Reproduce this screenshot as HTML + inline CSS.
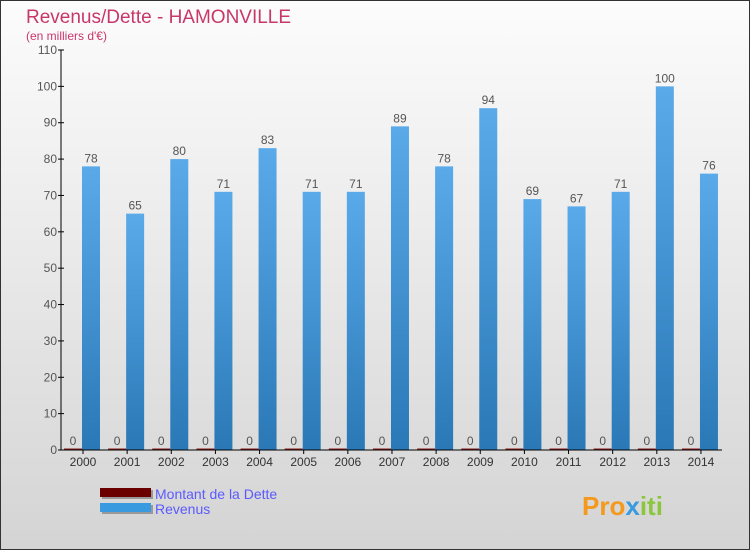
<!DOCTYPE html>
<html><head><meta charset="utf-8"><style>
body{margin:0}
svg{display:block;font-family:"Liberation Sans",sans-serif}
</style></head><body>
<svg width="750" height="550">
<defs>
<linearGradient id="bg" x1="0" y1="0" x2="0" y2="1"><stop offset="0" stop-color="#fcfcfc"/><stop offset="1" stop-color="#d4d4d4"/></linearGradient>
<linearGradient id="bar" x1="0" y1="0" x2="0" y2="1"><stop offset="0" stop-color="#5aaaea"/><stop offset="1" stop-color="#2a78b6"/></linearGradient>
</defs>
<rect x="0.5" y="0.5" width="749" height="549" fill="url(#bg)" stroke="#333"/>
<text x="26" y="23" font-size="19" fill="#c8376a">Revenus/Dette - HAMONVILLE</text>
<text x="26" y="40" font-size="12" fill="#c8376a">(en milliers d'€)</text>
<g id="plot"></g>
<g>
<rect x="102" y="490" width="51" height="9" fill="#999"/><rect x="100" y="488" width="51" height="9" fill="#6b0000"/>
<text x="155" y="499" font-size="14" fill="#5a5aff">Montant de la Dette</text>
<rect x="102" y="505" width="51" height="9" fill="#999"/><rect x="100" y="503" width="51" height="9" fill="#3a9ae0"/>
<text x="155" y="514" font-size="14" fill="#5a5aff">Revenus</text>
</g>
<text x="582" y="515" font-size="26" font-weight="bold" fill="#f39a1e">Pro<tspan fill="#3a9ae0">x</tspan><tspan fill="#8cc63f">iti</tspan></text>
</svg>
<script>
const years=["2000","2001","2002","2003","2004","2005","2006","2007","2008","2009","2010","2011","2012","2013","2014"];
const revenus=[78,65,80,71,83,71,71,89,78,94,69,67,71,100,76];
const dette=[0,0,0,0,0,0,0,0,0,0,0,0,0,0,0];
const yTicks=[0,10,20,30,40,50,60,70,80,90,100,110];
const NS="http://www.w3.org/2000/svg";
const g=document.getElementById('plot');
const y0=450,yTop=50,yMax=110,x0=61,step=44.14;
function ys(v){return y0-(v/yMax)*(y0-yTop);}
function xc(i){return x0+22+i*step;}
function mk(t,a,txt){const e=document.createElementNS(NS,t);for(const k in a)e.setAttribute(k,a[k]);if(txt!=null)e.textContent=txt;g.appendChild(e);return e;}
yTicks.forEach(v=>{
 const l=mk('line',{x1:x0-3,x2:x0+3,y1:ys(v),y2:ys(v),stroke:'#000'});
 
 
 const t=mk('text',{x:x0-4,y:ys(v)+4,'font-size':12,fill:'#555','text-anchor':'end'},v);
 
 
});
years.forEach((yr,i)=>{
 const c=xc(i);
 const d=mk('rect',{x:c-19,y:ys(dette[i])-1.5,width:18,height:Math.max(1.5,y0-ys(dette[i])+1.5),fill:'#8b1a1a'});
 
 
 const dl=mk('text',{x:c-10,y:ys(dette[i])-5,'font-size':12,fill:'#555','text-anchor':'middle'},dette[i]);
 
 
 const r=mk('rect',{x:c-1,y:ys(revenus[i]),width:18,height:y0-ys(revenus[i]),fill:'url(#bar)'});
 
 
 const rl=mk('text',{x:c+8,y:ys(revenus[i])-4,'font-size':12,fill:'#555','text-anchor':'middle'},revenus[i]);
 
 
 const tk=mk('line',{x1:c,x2:c,y1:y0,y2:y0+4,stroke:'#000'});
 
 
 const xl=mk('text',{x:c,y:y0+16,'font-size':12,fill:'#333','text-anchor':'middle'},yr);
 
 
});
const ax=mk('line',{x1:x0,x2:x0,y1:yTop,y2:y0,stroke:'#000'});


const bx=mk('line',{x1:x0,x2:722,y1:y0,y2:y0,stroke:'#000'});


</script>
</body></html>
